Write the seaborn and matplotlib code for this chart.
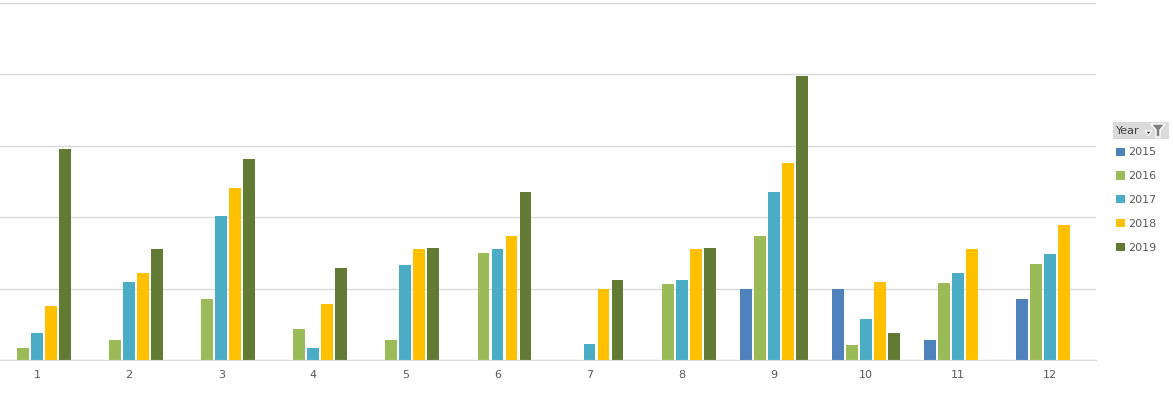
import matplotlib
matplotlib.use("Agg")
import matplotlib.pyplot as plt
from matplotlib.patches import Rectangle, Polygon
import seaborn as sns
import pandas as pd
import numpy as np

months = [str(m) for m in range(1, 13)]
years = ["2015", "2016", "2017", "2018", "2019"]

# values per year (NaN = no bar)
v2015 = [np.nan, np.nan, np.nan, np.nan, np.nan, np.nan, np.nan, np.nan, 20, 20, 5.6, 17]
v2016 = [3.3, 5.6, 17, 8.6, 5.6, 30.1, np.nan, 21.2, 34.6, 4.2, 21.5, 27]
v2017 = [7.5, 21.8, 40.2, 3.3, 26.5, 31, 4.5, 22.3, 47.1, 11.4, 24.3, 29.8]
v2018 = [15, 24.5, 48.3, 15.6, 31, 34.6, 20, 31, 55.2, 21.8, 31.2, 37.9]
v2019 = [59, 31.2, 56.3, 25.9, 31.5, 47.1, 22.3, 31.5, 79.5, 7.5, np.nan, np.nan]

colors = ["#4F81BD", "#9BBB59", "#4BACC6", "#FFC000", "#637A34"]

rows = []
for yr, vals in zip(years, [v2015, v2016, v2017, v2018, v2019]):
    for m, v in zip(months, vals):
        rows.append({"Month": m, "Year": yr, "Value": v})
df = pd.DataFrame(rows)

sns.set_style("white")
plt.rcParams["font.family"] = ["DejaVu Sans"]

fig = plt.figure(figsize=(11.73, 3.99), dpi=100)
ax = fig.add_axes([-9 / 1173, 39 / 399, 1105 / 1173, 357 / 399])

sns.barplot(data=df.dropna(), x="Month", y="Value", hue="Year",
            order=months, hue_order=years, palette=colors, saturation=1,
            width=0.76, gap=0.15, dodge=True, linewidth=0, ax=ax, legend=True)

ax.set_ylim(0, 100)
ax.set_xlim(-0.5, 11.5)
ax.set_yticks([0, 20, 40, 60, 80, 100])
ax.yaxis.grid(True, color="#D9D9D9", linewidth=1)
ax.set_axisbelow(True)
ax.set_yticklabels([])
ax.tick_params(axis="y", length=0)
ax.tick_params(axis="x", length=0, pad=7, labelsize=8, labelcolor="#595959")
ax.set_xlabel("")
ax.set_ylabel("")
for s in ["top", "left", "right"]:
    ax.spines[s].set_visible(False)
ax.spines["bottom"].set_color("#D9D9D9")

handles, labels = ax.get_legend_handles_labels()
ax.get_legend().remove()
fig.legend(handles, labels, loc="upper left",
           bbox_to_anchor=(1112 / 1173, 1 - 143 / 399),
           frameon=False, fontsize=8, labelcolor="#595959",
           handlelength=0.75, handleheight=0.75, handletextpad=0.3,
           labelspacing=1.25, borderaxespad=0)

# pivot field button "Year"
fig.patches.append(Rectangle((1113 / 1173, 1 - 139 / 399), 56 / 1173, 17 / 399,
                             transform=fig.transFigure, facecolor="#DADADA",
                             edgecolor="none"))
fig.text(1116 / 1173, 1 - 131 / 399, "Year", fontsize=8, color="#404040",
         va="center", ha="left")
fig.patches.append(Polygon([[1145 / 1173, 1 - 131 / 399], [1152 / 1173, 1 - 131 / 399],
                            [1148.5 / 1173, 1 - 135 / 399]],
                           transform=fig.transFigure, facecolor="#404040"))
fig.patches.append(Polygon([[1151 / 1173, 1 - 124 / 399], [1165 / 1173, 1 - 124 / 399],
                            [1160 / 1173, 1 - 130 / 399], [1160 / 1173, 1 - 137 / 399],
                            [1156 / 1173, 1 - 137 / 399], [1156 / 1173, 1 - 130 / 399]],
                           transform=fig.transFigure, facecolor="#7F7F7F"))

fig.savefig("out.png", dpi=100)
